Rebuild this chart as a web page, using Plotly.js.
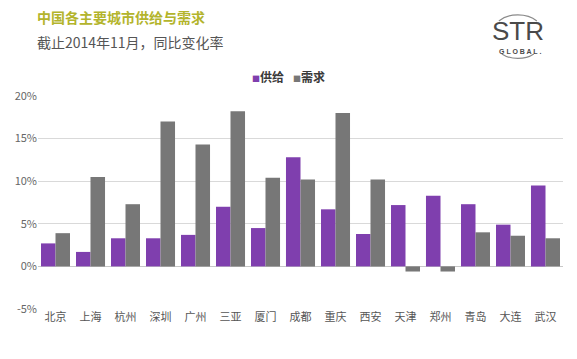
<!DOCTYPE html>
<html><head><meta charset="utf-8">
<script src="https://cdn.plot.ly/plotly-3.0.1.min.js"></script>
<style>html,body{margin:0;padding:0;background:#fff}#c{width:577px;height:359px}</style>
</head><body><div id="c"></div>
<script>
const cities = ['北京','上海','杭州','深圳','广州','三亚','厦门','成都','重庆','西安','天津','郑州','青岛','大连','武汉'];
const supply = [2.7,1.7,3.3,3.3,3.7,7.0,4.5,12.8,6.7,3.8,7.2,8.3,7.3,4.9,9.5];
const demand = [3.9,10.5,7.3,17.0,14.3,18.2,10.4,10.2,18.0,10.2,-0.6,-0.6,4.0,3.6,3.3];
const yTicks = [-5,0,5,10,15,20];
const yTickText = ['-5%','0%','5%','10%','15%','20%'];
const seriesNames = ['供给','需求'];
const seriesColors = ['#7f3fae','#777777'];

const F = '"Noto Sans CJK SC", "Noto Sans", sans-serif';
const traces = [
  {type:'bar', name:seriesNames[0], x:cities, y:supply, marker:{color:seriesColors[0]}},
  {type:'bar', name:seriesNames[1], x:cities, y:demand, marker:{color:seriesColors[1]}}
];
const legendAnn = seriesNames.map((n,i)=>({
  xref:'paper', yref:'paper', x:[0.403,0.481][i], y:1.092, xanchor:'left', yanchor:'middle',
  text:'<span style="color:'+seriesColors[i]+';font-size:8px">■</span><b>'+n+'</b>', showarrow:false,
  font:{family:F, size:12, color:'#3a3a3a'}
}));
const layout = {
  width:577, height:359,
  margin:{l:38, r:14, t:96, b:50},
  paper_bgcolor:'#fff', plot_bgcolor:'#fff',
  font:{family:F, color:'#595959', size:11},
  barmode:'group', bargap:0.17, bargroupgap:0,
  showlegend:false,
  xaxis:{type:'category', showgrid:false, zeroline:false, showline:false, ticks:'',
         tickfont:{family:F, size:11, color:'#555'}, fixedrange:true},
  yaxis:{range:[-5,20], tickvals:yTicks, ticktext:yTickText, showgrid:true,
         gridcolor:'#d9d9d9', gridwidth:1, zeroline:true, zerolinecolor:'#c8c8c8', zerolinewidth:1,
         showline:false, ticks:'', tickfont:{family:F, size:11, color:'#666'}, fixedrange:true},
  annotations:[
    {xref:'paper', yref:'paper', x:-0.006, y:1.37, xanchor:'left', yanchor:'middle',
     text:'<b>中国各主要城市供给与需求</b>', showarrow:false,
     font:{family:F, size:14, color:'#b3b42c'}},
    {xref:'paper', yref:'paper', x:-0.006, y:1.255, xanchor:'left', yanchor:'middle',
     text:'截止2014年11月，同比变化率', showarrow:false,
     font:{family:F, size:14, color:'#555'}},
    {xref:'paper', yref:'paper', x:0.914, y:1.305, xanchor:'center', yanchor:'middle',
     text:'STR', showarrow:false, font:{family:'"Liberation Sans", sans-serif', size:26, color:'#4a4a4a'}},
    {xref:'paper', yref:'paper', x:0.918, y:1.21, xanchor:'center', yanchor:'middle',
     text:'<b>G L O B A L .</b>', showarrow:false, font:{family:'"Liberation Sans", sans-serif', size:7, color:'#4a4a4a'}}
  ].concat(legendAnn),
  shapes:[
    {type:'path', xref:'paper', yref:'paper', xsizemode:'pixel', ysizemode:'pixel',
     xanchor:0.914, yanchor:1.282, path:'M -19,15 C -9,23 9,23 19,15',
     line:{color:'#8a8a8a', width:1.2}},
    {type:'path', xref:'paper', yref:'paper', xsizemode:'pixel', ysizemode:'pixel',
     xanchor:0.914, yanchor:1.282, path:'M -16,-18 C -7,-24 7,-24 16,-18',
     line:{color:'#8a8a8a', width:1.2}}
  ]
};
Plotly.newPlot('c', traces, layout, {displayModeBar:false, staticPlot:true});
</script></body></html>
